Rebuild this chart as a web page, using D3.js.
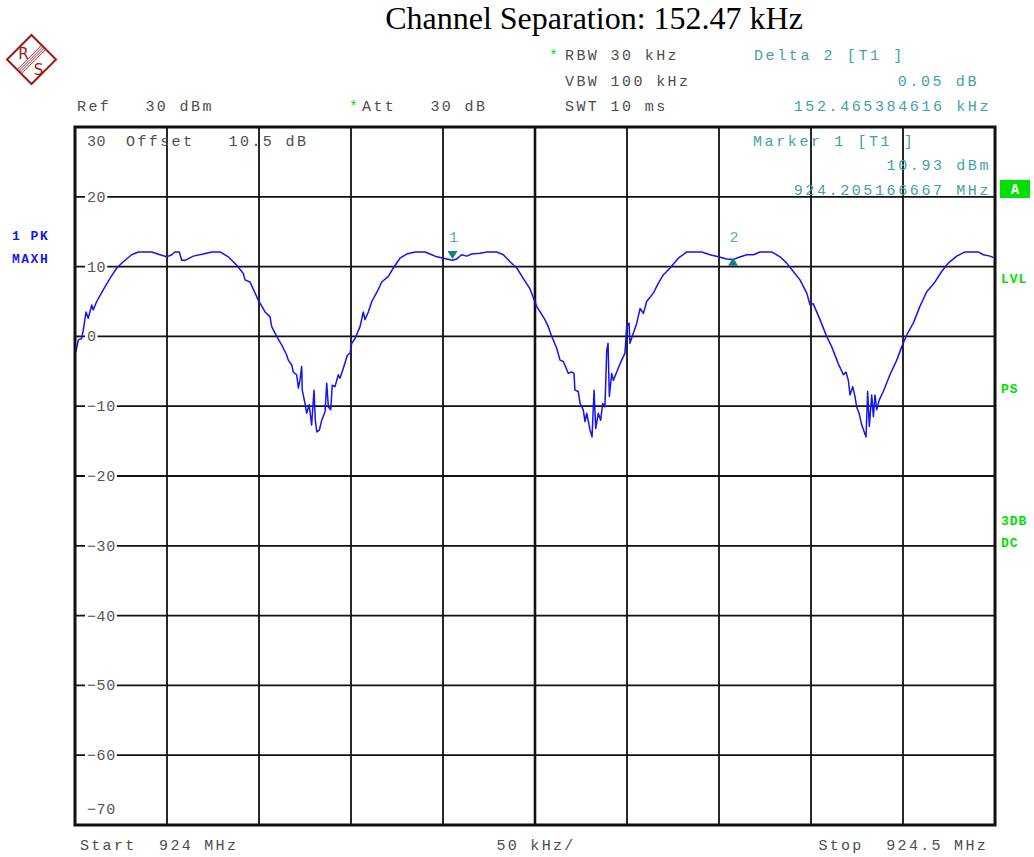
<!DOCTYPE html>
<html>
<head>
<meta charset="utf-8">
<script src="https://cdn.jsdelivr.net/npm/d3@7"></script>
<style>
  body { margin: 0; background: #fff; }
  svg text { white-space: pre; }
</style>
</head>
<body>
<div id="chart"></div>
<script>
// trace 1 (PK MAXH): frequency offset from start in kHz, level in dBm
var traceKHz = [0.5, 1.8, 3.6, 4.5, 6.0, 7.2, 9.1, 9.9, 11.8, 15.4, 19.0, 22.7, 26.2, 30.8, 34.4, 41.7, 46.2, 49.8,
  52.6, 54.3, 56.7, 58.0, 59.8, 64.3, 69.7, 74.3, 78.8, 83.3, 87.9, 91.5, 92.4, 95.1, 99.6, 103.3, 106.0, 106.9,
  109.6, 112.3, 115.1, 115.9, 117.8, 118.6, 120.5, 121.4, 122.3, 123.2, 123.5, 125.0, 125.9, 127.3, 128.6, 129.9,
  130.6, 131.4, 132.8, 134.1, 135.9, 136.8, 137.7, 139.0, 139.8, 141.3, 143.1, 144.0, 145.8, 148.0, 149.5, 150.4,
  152.2, 154.9, 156.7, 157.6, 159.4, 161.3, 164.8, 166.7, 170.3, 173.0, 176.6, 180.3, 184.8, 190.2, 193.9, 196.6,
  198.4, 202.0, 205.2, 207.4, 210.1, 212.9, 215.6, 220.1, 223.8, 229.2, 232.8, 236.4, 240.1, 243.6, 247.3, 250.9,
  255.4, 257.2, 259.1, 261.8, 263.6, 265.4, 268.1, 269.9, 271.2, 271.7, 273.5, 274.5, 276.2, 277.2, 278.1, 279.9,
  281.0, 282.1, 283.0, 284.4, 285.7, 286.8, 288.0, 289.0, 289.7, 290.4, 291.7, 292.6, 294.4, 297.1, 298.9, 299.8,
  301.1, 301.6, 303.4, 305.3, 307.1, 308.9, 310.7, 314.3, 317.0, 319.7, 323.4, 327.9, 332.5, 340.6, 345.1, 349.6,
  354.2, 357.6, 360.5, 365.1, 368.7, 372.3, 378.6, 383.2, 386.8, 390.4, 394.0, 397.7, 399.5, 401.2, 404.9, 408.5,
  411.3, 414.8, 417.6, 419.0, 420.3, 421.2, 422.7, 423.9, 424.8, 426.1, 427.6, 429.9, 430.8, 431.7, 433.0, 433.9,
  434.8, 435.7, 437.1, 439.3, 442.9, 446.6, 449.3, 452.0, 455.6, 459.2, 462.9, 467.4, 471.0, 474.6, 479.2, 483.7,
  490.9, 493.7, 497.3, 499.1];
var traceDBm = [-2.2, -0.5, -0.3, 0.9, 3.5, 2.6, 4.5, 3.8, 5.0, 6.7, 8.3, 9.8, 10.7, 11.7, 12.1, 12.1, 11.7, 11.4,
  11.7, 12.1, 12.1, 10.9, 10.9, 11.5, 11.8, 12.1, 12.1, 11.4, 10.2, 9.0, 8.1, 7.8, 5.2, 3.5, 2.8, 1.4,
  0.0, -1.2, -2.7, -3.4, -4.1, -5.1, -5.5, -7.4, -6.2, -4.3, -7.7, -9.6, -11.0, -9.8, -12.7, -7.7,
  -12.0, -13.7, -13.4, -12.0, -10.8, -6.7, -10.1, -10.5, -7.0, -7.2, -5.5, -6.0, -4.6, -2.7, -2.4, -1.0,
  -0.3, 1.4, 3.5, 2.4, 3.5, 5.0, 6.7, 7.8, 8.6, 9.8, 11.2, 11.8, 12.1, 12.1, 11.7, 11.4,
  11.3, 11.1, 10.9, 11.1, 11.7, 11.5, 11.8, 11.9, 12.1, 12.1, 11.7, 10.7, 9.8, 8.3, 6.8, 4.3,
  2.4, 1.4, 0.0, -1.7, -3.4, -3.6, -5.3, -5.1, -5.3, -7.7, -7.9, -9.6, -10.5, -12.2, -11.0, -13.4,
  -14.4, -7.7, -13.2, -11.0, -12.0, -9.6, -10.1, -2.0, -1.0, -8.6, -5.3, -6.3, -5.1, -3.4, -2.4, 1.4,
  1.9, -1.0, 0.4, 1.9, 4.0, 3.3, 5.0, 6.2, 7.6, 8.8, 9.8, 11.2, 12.1, 12.1, 11.7, 11.4,
  11.1, 11.0, 11.3, 11.7, 11.7, 12.1, 12.1, 11.4, 10.5, 9.3, 8.1, 6.2, 4.5, 4.7, 2.4, 0.0,
  -1.5, -3.9, -5.5, -5.1, -6.3, -8.4, -7.2, -8.6, -10.1, -11.0, -12.7, -14.4, -7.9, -12.9, -8.4, -11.5,
  -8.4, -10.5, -9.1, -7.9, -5.5, -3.4, -1.5, 0.2, 1.9, 4.3, 6.4, 7.8, 9.3, 10.5, 11.5, 12.1,
  12.1, 11.7, 11.5, 11.3];

var startMHz = 924.0;
var stopMHz = 924.5;
var yTicks = [30, 20, 10, 0, -10, -20, -30, -40, -50, -60, -70];

// markers: label, frequency MHz, level dBm, pointing
var markerNames = ["1", "2"];
var markerMHz = [924.205166667, 924.357632283];
var markerDBm = [10.93, 10.98];
var markerDir = ["down", "up"];

var headerLeft = [
  { x: 77, y: 111, t: "Ref   30 dBm" },
  { x: 362, y: 111, t: "Att   30 dB", star: 349 },
  { x: 565, y: 60, t: "RBW 30 kHz", star: 549 },
  { x: 565, y: 86, t: "VBW 100 kHz" },
  { x: 565, y: 111, t: "SWT 10 ms" }
];
var markerInfo = [
  { x: 754, y: 60, t: "Delta 2 [T1 ]", a: "start" },
  { x: 979, y: 86, t: "0.05 dB", a: "end" },
  { x: 991, y: 111, t: "152.465384616 kHz", a: "end" },
  { x: 753, y: 146, t: "Marker 1 [T1 ]", a: "start" },
  { x: 991, y: 170, t: "10.93 dBm", a: "end" },
  { x: 991, y: 195, t: "924.205166667 MHz", a: "end" }
];
var sideLabels = [
  { x: 1001, y: 283, t: "LVL" },
  { x: 1001, y: 393, t: "PS" },
  { x: 1001, y: 525, t: "3DB" },
  { x: 1001, y: 547, t: "DC" }
];

var width = 1034, height = 857;
var plotL = 75, plotR = 995, plotT = 127, plotB = 825;
var mono = "'Liberation Mono', 'DejaVu Sans Mono', monospace";
var grayText = "#4d4d4d";
var teal = "#3fa3a3";
var green = "#00e000";

var svg = d3.select("#chart").append("svg")
  .attr("width", width)
  .attr("height", height);

var x = d3.scaleLinear().domain([startMHz, stopMHz]).range([plotL, plotR]);
var y = d3.scaleLinear().domain([-70, 30]).range([plotB, plotT]);

// title
svg.append("text")
  .attr("x", 594).attr("y", 29)
  .attr("text-anchor", "middle")
  .style("font-family", "'Liberation Serif', 'Times New Roman', serif")
  .style("font-size", "32px")
  .text("Channel Separation: 152.47 kHz");

// R&S logo
var logo = svg.append("g").attr("transform", "translate(31.5,59.5)");
logo.append("path")
  .attr("d", "M0,-24.5 L24.5,0 L0,24.5 L-24.5,0 Z")
  .attr("fill", "none").attr("stroke", "#a01818").attr("stroke-width", 2);
[-3, -1, 1, 3].forEach(function(o) {
  logo.append("line")
    .attr("x1", 12.25 + o * 0.7).attr("y1", -12.25 + o * 0.7)
    .attr("x2", -12.25 + o * 0.7).attr("y2", 12.25 + o * 0.7)
    .attr("stroke", "#a01818").attr("stroke-width", 0.9);
});
logo.append("text").attr("x", -8).attr("y", -1).attr("text-anchor", "middle")
  .style("font-family", "'DejaVu Sans', sans-serif").style("font-size", "15px")
  .attr("fill", "#a01818").text("R");
logo.append("text").attr("x", 7).attr("y", 15).attr("text-anchor", "middle")
  .style("font-family", "'DejaVu Sans', sans-serif").style("font-size", "15px")
  .attr("fill", "#a01818").text("S");

// header settings
headerLeft.forEach(function(h) {
  svg.append("text").attr("x", h.x).attr("y", h.y)
    .style("font-family", mono).style("font-size", "15px")
    .style("letter-spacing", "2.4px").attr("fill", grayText).text(h.t);
  if (h.star) {
    svg.append("text").attr("x", h.star).attr("y", h.y)
      .style("font-family", mono).style("font-size", "15px")
      .attr("fill", green).text("*");
  }
});

// grid
var grid = svg.append("g");
x.ticks(10).forEach(function(f) {
  var center = Math.abs(f - (startMHz + stopMHz) / 2) < 1e-6;
  grid.append("line")
    .attr("x1", x(f)).attr("x2", x(f))
    .attr("y1", plotT).attr("y2", plotB)
    .attr("stroke", "#111")
    .attr("stroke-width", center ? 2.6 : 1.8);
});
yTicks.forEach(function(v) {
  if (v === 30 || v === -70) return;
  grid.append("line")
    .attr("x1", plotL).attr("x2", plotR)
    .attr("y1", y(v)).attr("y2", y(v))
    .attr("stroke", "#111").attr("stroke-width", 1.8);
});

// y labels (with a white gap in the grid line)
var fmt = d3.format("d");
var labelLayer = svg.append("g");
yTicks.forEach(function(v) {
  var inside = (v === 30 || v === -70);
  var ty = v === 30 ? y(v) + 19 : v === -70 ? y(v) - 11 : y(v) + 5;
  var gap = labelLayer.append("rect").attr("fill", "#fff");
  var t = labelLayer.append("text")
    .attr("x", 87).attr("y", ty)
    .style("font-family", mono).style("font-size", "15px")
    .style("letter-spacing", "0.6px")
    .attr("fill", "#555")
    .text(fmt(v));
  if (!inside) {
    var w = t.node().getComputedTextLength();
    gap.attr("x", 85).attr("y", y(v) - 3)
      .attr("width", w + 3).attr("height", 6);
  } else {
    gap.remove();
  }
});

svg.append("text").attr("x", 126).attr("y", 146)
  .style("font-family", mono).style("font-size", "15px")
  .style("letter-spacing", "2.4px").attr("fill", grayText)
  .text("Offset   10.5 dB");

// trace
var pts = traceKHz.map(function(k, i) { return [startMHz + k / 1000, traceDBm[i]]; });
var line = d3.line()
  .x(function(d) { return x(d[0]); })
  .y(function(d) { return y(d[1]); });
svg.append("path")
  .datum(pts)
  .attr("d", line)
  .attr("fill", "none")
  .attr("stroke", "#1515f0")
  .attr("stroke-width", 1.5)
  .attr("stroke-linejoin", "round");

// frame
svg.append("rect")
  .attr("x", plotL).attr("y", plotT)
  .attr("width", plotR - plotL).attr("height", plotB - plotT)
  .attr("fill", "none").attr("stroke", "#111").attr("stroke-width", 3);

// markers
markerNames.forEach(function(n, i) {
  var mx = x(markerMHz[i]), my = y(markerDBm[i]);
  var d = markerDir[i] === "down"
    ? "M" + (mx - 5) + "," + (my - 9) + " L" + (mx + 5) + "," + (my - 9) + " L" + mx + "," + (my - 1) + " Z"
    : "M" + (mx - 5) + "," + (my + 6) + " L" + (mx + 5) + "," + (my + 6) + " L" + mx + "," + (my - 2) + " Z";
  svg.append("path").attr("d", d).attr("fill", "#128080");
  svg.append("text")
    .attr("x", mx + 1).attr("y", 242)
    .attr("text-anchor", "middle")
    .style("font-family", mono).style("font-size", "15px")
    .attr("fill", "#5ab0b0").text(n);
});

// marker readout
markerInfo.forEach(function(m) {
  svg.append("text").attr("x", m.x).attr("y", m.y)
    .attr("text-anchor", m.a)
    .style("font-family", mono).style("font-size", "15px")
    .style("letter-spacing", "2.6px").attr("fill", teal).text(m.t);
});

// trace label on the left
svg.append("text").attr("x", 12).attr("y", 240)
  .style("font-family", mono).style("font-size", "13px").style("font-weight", "bold")
  .style("letter-spacing", "1.5px").attr("fill", "#1515f0").text("1 PK");
svg.append("text").attr("x", 12).attr("y", 263)
  .style("font-family", mono).style("font-size", "13px").style("font-weight", "bold")
  .style("letter-spacing", "1.5px").attr("fill", "#1515f0").text("MAXH");

// right status labels
svg.append("rect").attr("x", 1000).attr("y", 180).attr("width", 30).attr("height", 18).attr("fill", green);
svg.append("text").attr("x", 1015).attr("y", 194).attr("text-anchor", "middle")
  .style("font-family", mono).style("font-size", "14px").style("font-weight", "bold")
  .attr("fill", "#fff").text("A");
sideLabels.forEach(function(s) {
  svg.append("text").attr("x", s.x).attr("y", s.y)
    .style("font-family", mono).style("font-size", "13px").style("font-weight", "bold")
    .style("letter-spacing", "1px").attr("fill", green).text(s.t);
});

// bottom
svg.append("text").attr("x", 80).attr("y", 850)
  .style("font-family", mono).style("font-size", "15px").style("letter-spacing", "2.3px")
  .attr("fill", grayText).text("Start  924 MHz");
svg.append("text").attr("x", 536).attr("y", 850).attr("text-anchor", "middle")
  .style("font-family", mono).style("font-size", "15px").style("letter-spacing", "2.3px")
  .attr("fill", grayText).text("50 kHz/");
svg.append("text").attr("x", 988).attr("y", 850).attr("text-anchor", "end")
  .style("font-family", mono).style("font-size", "15px").style("letter-spacing", "2.3px")
  .attr("fill", grayText).text("Stop  924.5 MHz");
</script>
</body>
</html>
